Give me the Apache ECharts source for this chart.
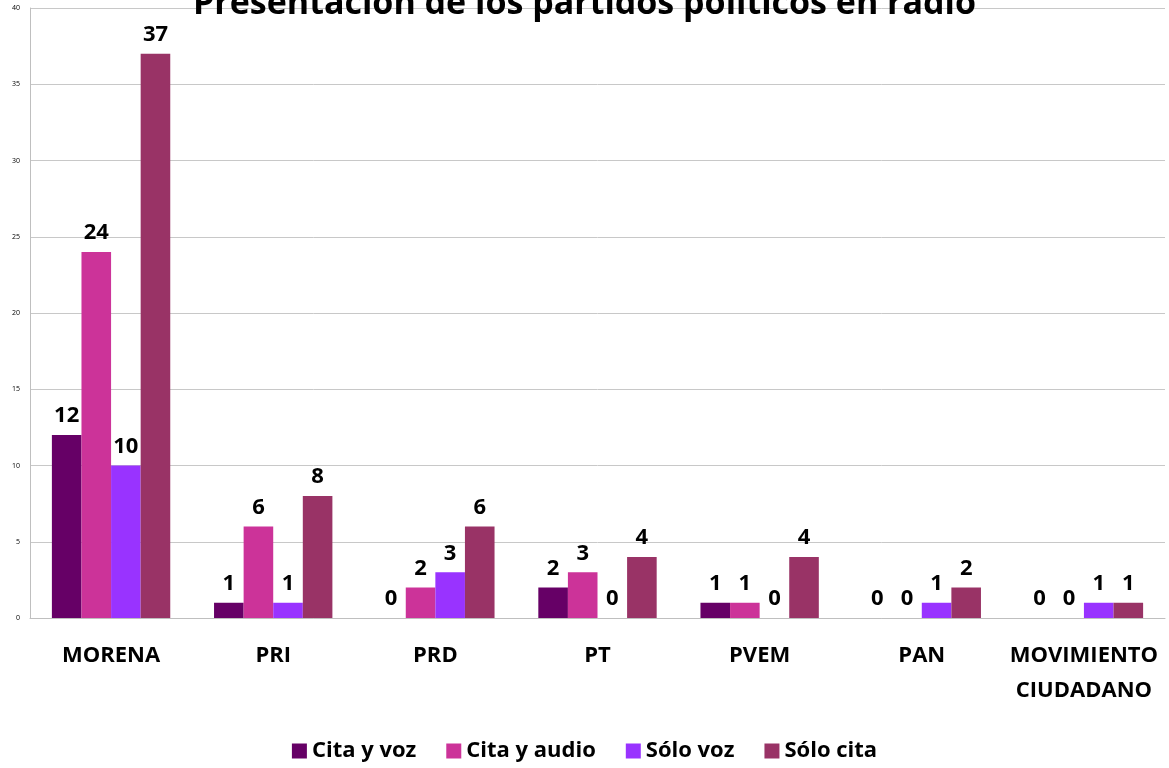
<!DOCTYPE html>
<html>
<head>
<meta charset="utf-8">
<script src="https://cdn.jsdelivr.net/npm/echarts@6/dist/echarts.min.js"></script>
<style>
  html, body { margin: 0; padding: 0; background: #fff; }
  #chart { width: 1169px; height: 768px; }
</style>
</head>
<body>
<div id="chart"></div>
<script>
var partidos = ["MORENA", "PRI", "PRD", "PT", "PVEM", "PAN", "MOVIMIENTO\nCIUDADANO"];
var citaYVoz = [12, 1, 0, 2, 1, 0, 0];
var citaYAudio = [24, 6, 2, 3, 1, 0, 0];
var soloVoz = [10, 1, 3, 0, 0, 1, 1];
var soloCita = [37, 8, 6, 4, 4, 2, 1];

var font = "'Open Sans', 'Liberation Sans', sans-serif";

function serie(name, data, color) {
  return {
    name: name,
    type: "bar",
    data: data,
    barGap: "0%",
    barCategoryGap: "27%",
    itemStyle: { color: color },
    label: {
      show: true,
      position: "top",
      distance: 8,
      color: "#000",
      fontSize: 22,
      fontWeight: "bold",
      fontFamily: font
    }
  };
}

var myChart = echarts.init(document.getElementById("chart"));
myChart.setOption({
  animation: false,
  title: {
    text: "Presentación de los partidos políticos en radio",
    left: "center",
    top: -18,
    textStyle: { fontSize: 34, fontWeight: "bold", color: "#000", fontFamily: font }
  },
  legend: {
    bottom: 1,
    left: "center",
    itemWidth: 15,
    itemHeight: 15,
    itemGap: 30,
    icon: "rect",
    textStyle: { fontSize: 22, fontWeight: "bold", color: "#000", fontFamily: font }
  },
  grid: { left: 30, right: 4, top: 8, bottom: 150, containLabel: false },
  xAxis: {
    type: "category",
    data: partidos,
    axisLine: { lineStyle: { color: "#bfbfbf" } },
    axisTick: { show: false },
    axisLabel: {
      interval: 0,
      margin: 20,
      fontSize: 22,
      fontWeight: "bold",
      color: "#000",
      lineHeight: 35,
      fontFamily: font
    }
  },
  yAxis: {
    type: "value",
    min: 0,
    max: 40,
    interval: 5,
    axisLine: { show: true, lineStyle: { color: "#bfbfbf" } },
    axisTick: { show: false },
    splitLine: { lineStyle: { color: "#c8c8c8" } },
    axisLabel: { fontSize: 7, color: "#000", margin: 10, fontFamily: font }
  },
  series: [
    serie("Cita y voz", citaYVoz, "#660066"),
    serie("Cita y audio", citaYAudio, "#cc3399"),
    serie("Sólo voz", soloVoz, "#9933ff"),
    serie("Sólo cita", soloCita, "#993366")
  ]
});
</script>
</body>
</html>
